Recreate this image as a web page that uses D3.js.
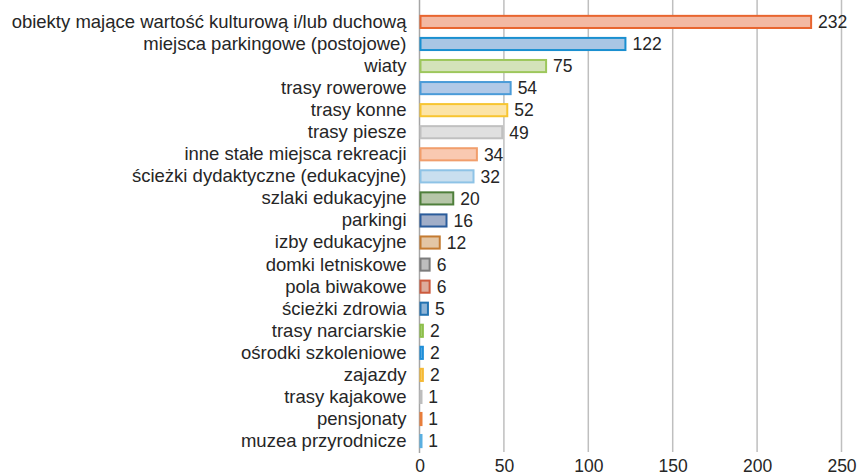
<!DOCTYPE html>
<html>
<head>
<meta charset="utf-8">
<script src="https://d3js.org/d3.v7.min.js"></script>
<style>
  body { margin: 0; background: #fff; }
  #chart text { font-family: "Liberation Sans", Arial, sans-serif; fill: #262626; }
</style>
</head>
<body>
<div id="chart"></div>
<script>
  // dane
  var kategorie = ["obiekty mające wartość kulturową i/lub duchową", "miejsca parkingowe (postojowe)", "wiaty",
    "trasy rowerowe", "trasy konne", "trasy piesze", "inne stałe miejsca rekreacji",
    "ścieżki dydaktyczne (edukacyjne)", "szlaki edukacyjne", "parkingi", "izby edukacyjne",
    "domki letniskowe", "pola biwakowe", "ścieżki zdrowia", "trasy narciarskie",
    "ośrodki szkoleniowe", "zajazdy", "trasy kajakowe", "pensjonaty", "muzea przyrodnicze"];
  var wartosci = [232, 122, 75, 54, 52, 49, 34, 32, 20, 16, 12, 6, 6, 5, 2, 2, 2, 1, 1, 1];
  var tickiX = [0, 50, 100, 150, 200, 250];

  var obrys = ["#e8652f", "#1a8fd0", "#9dc75c", "#4a9bd8", "#f7c531", "#c0c0c0", "#f19e6c", "#8ec3e6",
    "#4f7f3b", "#2b5c9b", "#c47b31", "#7c7c7c", "#cc5a3d", "#2473b1", "#8dbf4a", "#1e8ed8",
    "#f5b935", "#bdbdbd", "#e87d3a", "#5aafe0"];
  var wypelnienie = ["#f3b9a3", "#a9c6e4", "#d4e3ba", "#b1c9e7", "#fce4a7", "#e0e0e0", "#f9c9b1", "#c9dfef",
    "#b6c6a8", "#a1aec8", "#e3c6a5", "#bdbdbd", "#ddab9b", "#8eb4d6", "#c0dc9a", "#8ec6ec",
    "#fadc96", "#dedede", "#f4be9c", "#acd7f0"];

  var szer = 863, wys = 475;
  var margin = {top: 11, right: 21.5, bottom: 23, left: 419.5};
  var w = szer - margin.left - margin.right, h = wys - margin.top - margin.bottom;

  var svg = d3.select("#chart").append("svg")
    .attr("width", szer).attr("height", wys);
  var g = svg.append("g")
    .attr("transform", "translate(" + margin.left + "," + margin.top + ")");

  var x = d3.scaleLinear().domain([0, 250]).range([0, w]);
  var y = d3.scaleBand().domain(kategorie).range([0, h]).paddingInner(0.45).paddingOuter(0.22);

  // siatka
  g.selectAll("line.siatka")
    .data(tickiX.slice(1))
    .enter().append("line")
      .attr("class", "siatka")
      .attr("x1", d => x(d)).attr("x2", d => x(d))
      .attr("y1", -margin.top).attr("y2", h)
      .attr("stroke", "#bfbfbf").attr("stroke-width", 1.5);

  // os pionowa
  g.append("line")
    .attr("x1", 0).attr("x2", 0).attr("y1", -margin.top).attr("y2", h + 1)
    .attr("stroke", "#a6a6a6").attr("stroke-width", 1.5);

  // slupki
  g.selectAll("rect.slupek")
    .data(wartosci)
    .enter().append("rect")
      .attr("class", "slupek")
      .attr("x", 1)
      .attr("y", (d, i) => y(kategorie[i]))
      .attr("width", d => Math.max(x(d) - 1, 1))
      .attr("height", y.bandwidth())
      .attr("fill", (d, i) => wypelnienie[i])
      .attr("stroke", (d, i) => obrys[i])
      .attr("stroke-width", 2);

  // etykiety wartosci
  g.selectAll("text.wartosc")
    .data(wartosci)
    .enter().append("text")
      .attr("class", "wartosc")
      .attr("x", d => x(d) + 7)
      .attr("y", (d, i) => y(kategorie[i]) + y.bandwidth() / 2)
      .attr("dy", "0.36em")
      .style("font-size", "17.5px")
      .text(d => d);

  // etykiety kategorii
  var osY = g.append("g")
    .call(d3.axisLeft(y).tickSize(0).tickPadding(13));
  osY.select(".domain").remove();
  osY.selectAll("text").style("font-size", "18.5px");

  // os X
  var osX = g.append("g")
    .attr("transform", "translate(0," + h + ")")
    .call(d3.axisBottom(x).tickValues(tickiX).tickSize(0).tickPadding(8));
  osX.select(".domain").remove();
  osX.selectAll("text").style("font-size", "17.5px");
</script>
</body>
</html>
